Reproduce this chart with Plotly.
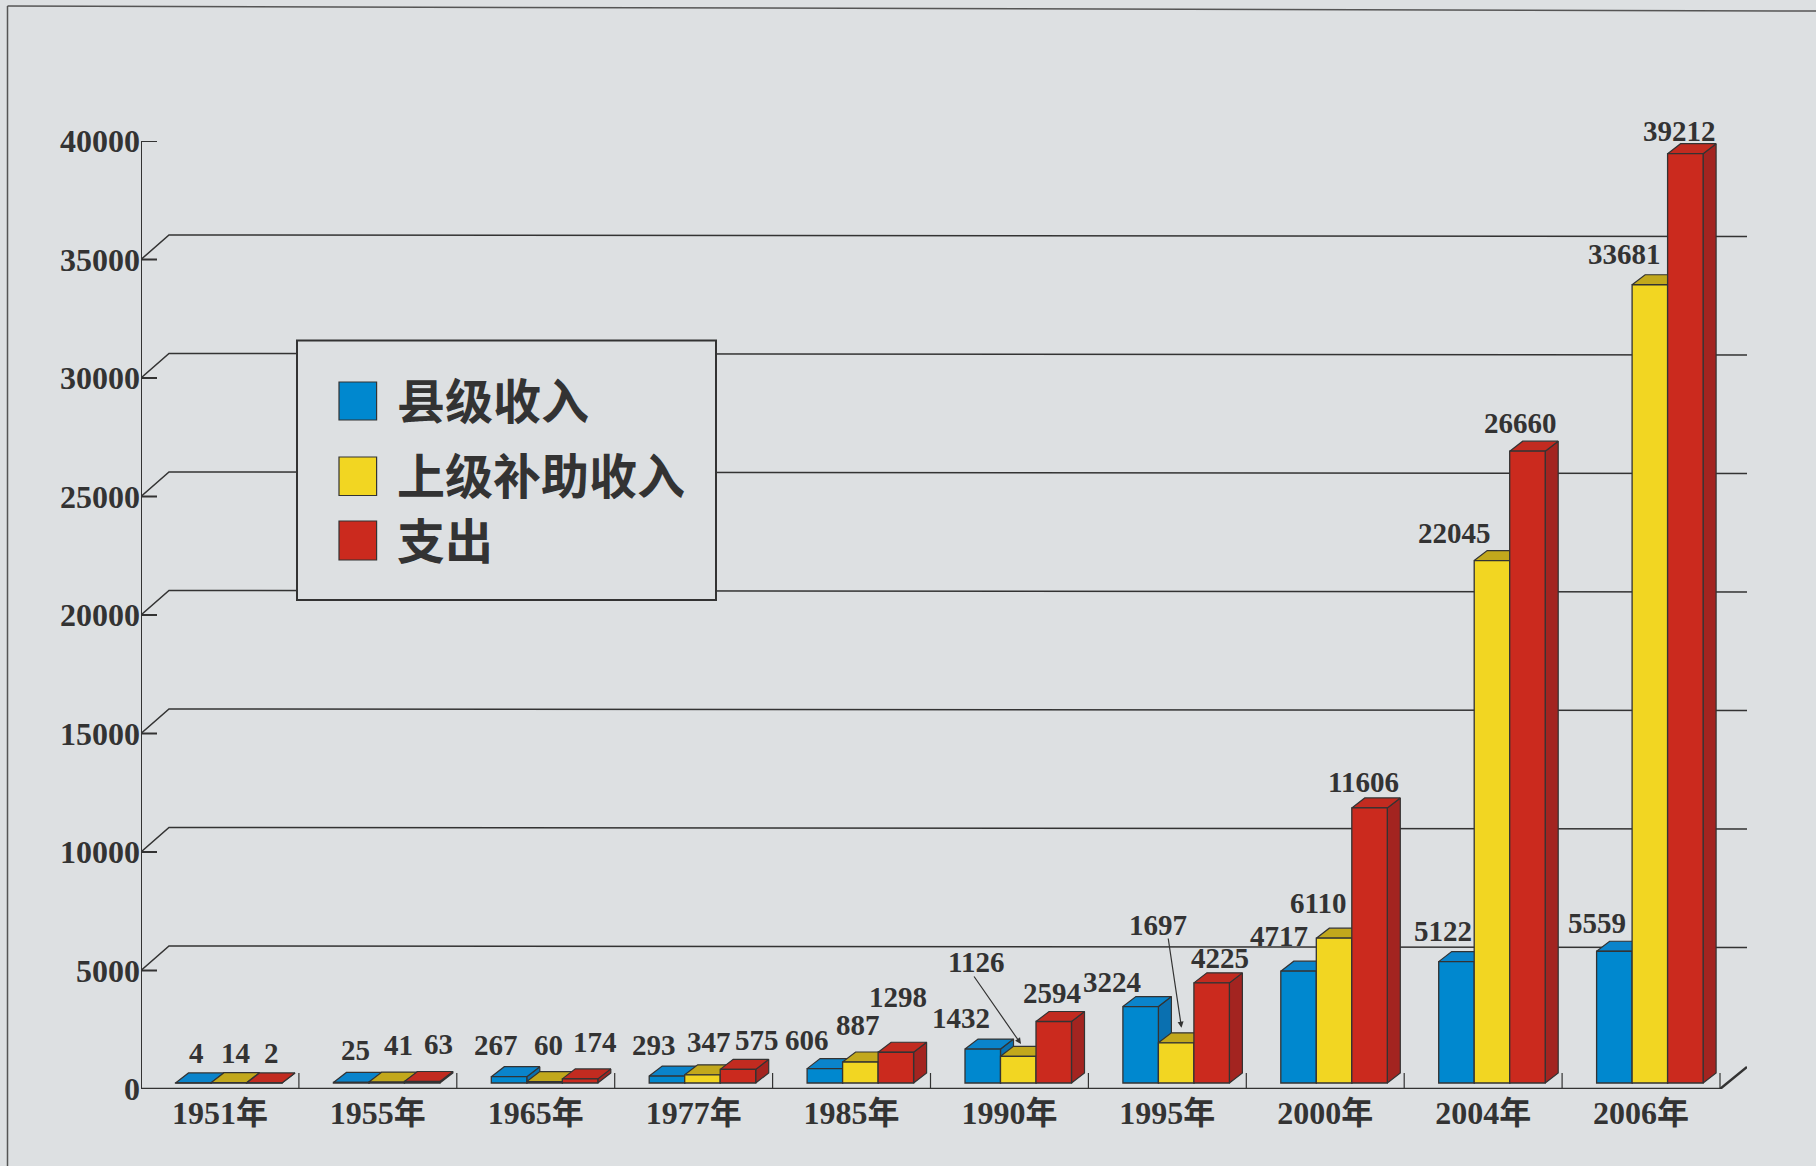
import plotly.graph_objects as go
import numpy as np

# ---- data ----
years = ["1951年", "1955年", "1965年", "1977年", "1985年", "1990年", "1995年", "2000年", "2004年", "2006年"]
county_income = [4, 25, 267, 293, 606, 1432, 3224, 4717, 5122, 5559]
subsidy_income = [14, 41, 60, 347, 887, 1126, 1697, 6110, 22045, 33681]
expenditure = [2, 63, 174, 575, 1298, 2594, 4225, 11606, 26660, 39212]
y_ticks = [0, 5000, 10000, 15000, 20000, 25000, 30000, 35000, 40000]
series_names = ["县级收入", "上级补助收入", "支出"]

# ---- layout constants (pixels of the 1816x1166 page) ----
W, H = 1816, 1166
L, R, T, B = 141, 1747, 141, 1089
CAT_PX = 157.9
UNIT_PX = (B - T) / 40000
XMAX = (R - L) / CAT_PX
BG = "#dde0e2"
INK = "#333333"
SERIF = "Liberation Serif, Noto Sans CJK SC"


def dx(px):
    return px / CAT_PX


def dy(px):
    return px / UNIT_PX


def paper_x(px):
    return (px - L) / (R - L)


def paper_y(px):
    return (B - px) / (B - T)


BAR_W = dx(35.5)
BAR_START = dx(34.5)
FLOOR = dy(6)
DEPTH_X = dx(13)
DEPTH_Y = dy(10)

face_colors = [
    dict(front="#0088cf", top="#0a84cb", side="#0a70b0"),
    dict(front="#f2d622", top="#c2a81c", side="#b09a18"),
    dict(front="#cb2a1e", top="#c22b20", side="#a32420"),
]
values = [county_income, subsidy_income, expenditure]

fig = go.Figure()

# back wall lines, offset from each value tick
gx, gy = [], []
for v in y_ticks[1:-1]:
    gx += [0, dx(28), XMAX, None]
    gy += [v, v + dy(24.5), v + dy(23), None]
fig.add_trace(go.Scatter(x=gx, y=gy, mode="lines", line=dict(color=INK, width=1.5),
                         hoverinfo="skip", showlegend=False, zorder=0))

# value axis line and its ticks
ax_x, ax_y = [0, 0, None], [0, 40000, None]
for v in y_ticks:
    ax_x += [0, dx(16), None]
    ax_y += [v, v, None]
fig.add_trace(go.Scatter(x=ax_x, y=ax_y, mode="lines", line=dict(color=INK, width=2),
                         hoverinfo="skip", showlegend=False, zorder=0, cliponaxis=False))

# floor line and category separators
fig.add_trace(go.Scatter(x=[0, 10, XMAX], y=[0, 0, dy(22)], mode="lines",
                         line=dict(color=INK, width=2.5), hoverinfo="skip",
                         showlegend=False, zorder=0, cliponaxis=False))
sx, sy = [], []
for i in range(1, len(years) + 1):
    sx += [i, i, None]
    sy += [0, dy(16), None]
fig.add_trace(go.Scatter(x=sx, y=sy, mode="lines", line=dict(color=INK, width=1.2),
                         hoverinfo="skip", showlegend=False, zorder=0))

# pseudo-3D bars: side + top faces, then the front bar
for s, (name, vals, col) in enumerate(zip(series_names, values, face_colors)):
    x_left = np.arange(len(years)) + BAR_START + s * BAR_W
    tx, ty, ux, uy = [], [], [], []
    for xl, v in zip(x_left, vals):
        top = v + FLOOR
        xr = xl + BAR_W
        tx += [xl, xl + DEPTH_X, xr + DEPTH_X, xr, xl, None]
        ty += [top, top + DEPTH_Y, top + DEPTH_Y, top, top, None]
        ux += [xr, xr + DEPTH_X, xr + DEPTH_X, xr, xr, None]
        uy += [top, top + DEPTH_Y, FLOOR + DEPTH_Y, FLOOR, top, None]
    z = 2 * s + 1
    fig.add_trace(go.Scatter(x=ux, y=uy, mode="lines", fill="toself", fillcolor=col["side"],
                             line=dict(color=INK, width=1.2), hoverinfo="skip",
                             showlegend=False, zorder=z))
    fig.add_trace(go.Scatter(x=tx, y=ty, mode="lines", fill="toself", fillcolor=col["top"],
                             line=dict(color=INK, width=1.2), hoverinfo="skip",
                             showlegend=False, zorder=z))
    fig.add_trace(go.Bar(x=x_left + BAR_W / 2, y=vals, base=[FLOOR] * len(vals), width=BAR_W,
                         name=name, marker=dict(color=col["front"], line=dict(color=INK, width=1.3)),
                         showlegend=False, zorder=z + 1))

# value labels: hand-placed as in the reference (label centres, in the scale of a 1568-wide view)
disp = [
    [(170, 909), (203, 909), (234, 909)],
    [(307, 907), (344, 902), (379, 901)],
    [(428, 902), (474, 902), (514, 900)],
    [(565, 902), (612, 900), (654, 898)],
    [(697, 898), (741, 885), (775, 861)],
    [(830, 879), (843, 831), (908, 857)],
    [(960, 848), (1000, 799), (1053, 827)],
    [(1104, 808), (1138, 780), (1177, 675)],
    [(1246, 804), (1256, 460), (1313, 365)],
    [(1379, 797), (1403, 219), (1450, 113)],
]
SCALE = W / 1568
annotations = []
for i in range(len(years)):
    for s in range(3):
        cx, cy = disp[i][s]
        annotations.append(dict(x=paper_x(cx * SCALE), y=paper_y(cy * SCALE), xref="paper", yref="paper",
                                text=str(values[s][i]), showarrow=False, xanchor="center", yanchor="middle",
                                font=dict(family=SERIF, size=29, color=INK, weight=700)))

# leader arrows for 1126 and 1697
for (x0, y0, x1, y1) in [(973, 975, 1021, 1044), (1168, 937, 1181.5, 1027.7)]:
    annotations.append(dict(x=paper_x(x1), y=paper_y(y1), xref="paper", yref="paper", text="",
                            showarrow=True, arrowhead=2, arrowsize=1, arrowwidth=1.2,
                            arrowcolor=INK, ax=x0 - x1, ay=y0 - y1, axref="pixel", ayref="pixel"))

# legend panel
shapes = [
    dict(type="rect", xref="paper", yref="paper", x0=paper_x(297), x1=paper_x(716),
         y0=paper_y(340.5), y1=paper_y(600), fillcolor=BG, line=dict(color=INK, width=2)),
    # scanned page frame
    dict(type="line", xref="paper", yref="paper", x0=paper_x(7.5), x1=paper_x(7.5),
         y0=paper_y(6), y1=paper_y(1166), line=dict(color="#555555", width=1.5)),
    dict(type="line", xref="paper", yref="paper", x0=paper_x(7.5), x1=paper_x(1816),
         y0=paper_y(6), y1=paper_y(11), line=dict(color="#555555", width=1.5)),
]
swatch_rows = [(382, 420, 397.5), (457, 495.5, 472.5), (521, 560, 537.5)]
for (top, bottom, mid), col, name in zip(swatch_rows, face_colors, series_names):
    shapes.append(dict(type="rect", xref="paper", yref="paper", x0=paper_x(339), x1=paper_x(376.6),
                       y0=paper_y(top), y1=paper_y(bottom), fillcolor=col["front"],
                       line=dict(color=INK, width=1.2)))
    annotations.append(dict(x=paper_x(395), y=paper_y(mid), xref="paper", yref="paper", text=name,
                            showarrow=False, xanchor="left", yanchor="middle",
                            font=dict(family="Noto Sans CJK SC", size=48, color=INK, weight=700)))

fig.update_layout(
    width=W, height=H, autosize=False,
    margin=dict(l=L, r=W - R, t=T, b=H - B, pad=0),
    paper_bgcolor=BG, plot_bgcolor=BG, barmode="overlay", showlegend=False,
    shapes=shapes, annotations=annotations,
    xaxis=dict(range=[0, XMAX], tickmode="array", tickvals=[i + 0.5 for i in range(len(years))],
               ticktext=years, showgrid=False, zeroline=False, showline=False,
               ticks="", ticklabelstandoff=2, automargin=False,
               tickfont=dict(family=SERIF, size=32, color=INK, weight=700)),
    yaxis=dict(range=[0, 40000], tickmode="array", tickvals=y_ticks,
               ticktext=[str(v) for v in y_ticks], showgrid=False, zeroline=False,
               showline=False, ticks="", ticklabelstandoff=0, automargin=False,
               tickfont=dict(family=SERIF, size=32, color=INK, weight=700)),
)

fig.write_html("out.html", post_script="document.body.style.margin='0';document.body.style.overflow='hidden';",
               config={"displayModeBar": False})
